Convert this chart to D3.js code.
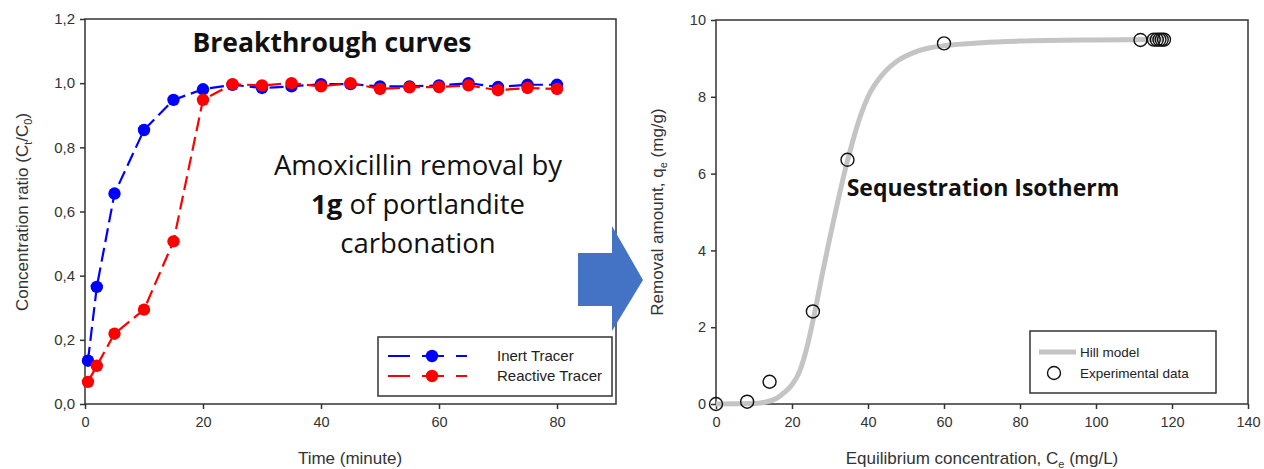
<!DOCTYPE html>
<html>
<head>
<meta charset="utf-8">
<script src="https://cdn.jsdelivr.net/npm/d3@7"></script>
<style>
  body { margin: 0; background: #fff; }
  svg { display: block; font-family: "Liberation Sans", Arial, sans-serif; }
  .tick line, .domain { stroke: #333; }
  .axis-label { font-size: 17px; fill: #333; }
  .big { font-family: "Open Sans", sans-serif; fill: #111; }
</style>
</head>
<body>
<svg width="1264" height="469"></svg>
<script>
// breakthrough curves (left)
const times = [0.5, 2, 5, 10, 15, 20, 25, 30, 35, 40, 45, 50, 55, 60, 65, 70, 75, 80];
const inert = [0.135, 0.365, 0.656, 0.854, 0.948, 0.981, 0.995, 0.985, 0.99, 0.997, 0.997, 0.99, 0.99, 0.993, 1.0, 0.988, 0.995, 0.995];
const reactive = [0.069, 0.119, 0.219, 0.294, 0.507, 0.948, 0.997, 0.993, 1.0, 0.99, 1.0, 0.982, 0.987, 0.988, 0.993, 0.978, 0.985, 0.982];
const timeTicks = [0, 20, 40, 60, 80];
const ratioTicks = [0, 0.2, 0.4, 0.6, 0.8, 1.0, 1.2];

// isotherm (right)
const ceData = [0, 8.2, 14.1, 25.5, 34.6, 60, 111.7, 115.2, 116.0, 116.7, 117.3, 117.9];
const qeData = [0, 0.06, 0.58, 2.41, 6.36, 9.39, 9.48, 9.49, 9.49, 9.49, 9.49, 9.49];
// Hill model curve
const hillC = [0, 10, 13, 16, 18, 20, 22, 24, 26, 28, 30, 32, 34, 36, 38, 40, 44, 48, 52, 56, 60, 70, 80, 100, 118];
const hillQ = [0, 0.01, 0.05, 0.15, 0.3, 0.5, 0.85, 1.5, 2.4, 3.4, 4.35, 5.25, 6.1, 6.85, 7.5, 8.0, 8.6, 8.95, 9.15, 9.27, 9.33, 9.41, 9.45, 9.48, 9.49];
const ceTicks = [0, 20, 40, 60, 80, 100, 120, 140];
const qeTicks = [0, 2, 4, 6, 8, 10];

const svg = d3.select("svg");
const comma = d => d3.format(".1f")(d).replace(".", ",");
const styleTicks = size => g => g.selectAll(".tick text")
  .style("font-size", size + "px")
  .style("font-family", "'Liberation Sans', Arial, sans-serif")
  .attr("fill", "#333");

// ---------- left chart ----------
const L = { left: 85, right: 616, top: 19, bottom: 404 };
const xL = d3.scaleLinear().domain([0, 90]).range([L.left, L.right]);
const yL = d3.scaleLinear().domain([0, 1.2]).range([L.bottom, L.top]);

const gL = svg.append("g");
gL.append("rect")
  .attr("x", L.left).attr("y", L.top)
  .attr("width", L.right - L.left).attr("height", L.bottom - L.top)
  .attr("fill", "none").attr("stroke", "#333").attr("stroke-width", 1.5);

gL.append("g")
  .attr("transform", `translate(0,${L.bottom})`)
  .call(d3.axisBottom(xL).tickValues(timeTicks).tickSize(5).tickSizeOuter(0).tickPadding(8))
  .call(g => g.select(".domain").remove())
  .call(styleTicks(14.5));
gL.append("g")
  .attr("transform", `translate(${L.left},0)`)
  .call(d3.axisLeft(yL).tickValues(ratioTicks).tickFormat(comma).tickSize(5).tickSizeOuter(0).tickPadding(5))
  .call(g => g.select(".domain").remove())
  .call(styleTicks(15));
gL.selectAll(".tick line").attr("stroke-width", 1.5);

const series = [
  { name: "Inert Tracer", values: inert, color: "#0000ff" },
  { name: "Reactive Tracer", values: reactive, color: "#ff0000" }
];

const lineL = d3.line().x(d => xL(d[0])).y(d => yL(d[1]));
series.forEach(s => {
  const pts = times.map((t, i) => [t, s.values[i]]);
  gL.append("path")
    .datum(pts)
    .attr("d", lineL)
    .attr("fill", "none")
    .attr("stroke", s.color)
    .attr("stroke-width", 2.2)
    .attr("stroke-dasharray", "14,6");
  gL.selectAll(null)
    .data(pts)
    .enter()
    .append("circle")
    .attr("cx", d => xL(d[0]))
    .attr("cy", d => yL(d[1]))
    .attr("r", 6.2)
    .attr("fill", s.color);
});

gL.append("text")
  .attr("class", "big")
  .attr("x", 332).attr("y", 52)
  .attr("text-anchor", "middle")
  .attr("font-weight", "bold")
  .attr("font-size", 26.5)
  .text("Breakthrough curves");

const note = gL.append("text")
  .attr("class", "big")
  .attr("text-anchor", "middle")
  .attr("font-size", 27.5);
note.append("tspan").attr("x", 418).attr("y", 175).text("Amoxicillin removal by");
const l2 = note.append("tspan").attr("x", 418).attr("y", 214);
l2.append("tspan").attr("font-weight", "bold").text("1g");
l2.append("tspan").text(" of portlandite");
note.append("tspan").attr("x", 418).attr("y", 253).text("carbonation");

// legend left
const legL = gL.append("g");
legL.append("rect")
  .attr("x", 378).attr("y", 337).attr("width", 234).attr("height", 59)
  .attr("fill", "#fff").attr("stroke", "#333").attr("stroke-width", 1.5);
series.forEach((s, i) => {
  const y = 356 + i * 20;
  legL.append("line")
    .attr("x1", 388).attr("x2", 467).attr("y1", y).attr("y2", y)
    .attr("stroke", s.color).attr("stroke-width", 2.2)
    .attr("stroke-dasharray", "22,12");
  legL.append("circle").attr("cx", 432).attr("cy", y).attr("r", 6.2).attr("fill", s.color);
  legL.append("text")
    .attr("x", 497).attr("y", y + 5)
    .attr("font-size", 15).attr("fill", "#222")
    .text(s.name);
});

// axis titles left
gL.append("text")
  .attr("class", "axis-label")
  .attr("x", 350).attr("y", 464)
  .attr("text-anchor", "middle")
  .text("Time (minute)");
const ylabL = gL.append("text")
  .attr("class", "axis-label")
  .attr("transform", "translate(28,212) rotate(-90)")
  .attr("text-anchor", "middle");
ylabL.append("tspan").text("Concentration ratio (C");
ylabL.append("tspan").attr("font-size", 11).attr("dy", 4).text("t");
ylabL.append("tspan").attr("dy", -4).text("/C");
ylabL.append("tspan").attr("font-size", 11).attr("dy", 4).text("0");
ylabL.append("tspan").attr("dy", -4).text(")");

// ---------- arrow ----------
svg.append("path")
  .attr("d", "M578,253 L612,253 L612,226 L643,280 L612,331 L612,306 L578,306 Z")
  .attr("fill", "#4472c4");

// ---------- right chart ----------
const R = { left: 716, right: 1248, top: 20, bottom: 404 };
const xR = d3.scaleLinear().domain([0, 140]).range([R.left, R.right]);
const yR = d3.scaleLinear().domain([0, 10]).range([R.bottom, R.top]);

const gR = svg.append("g");
gR.append("rect")
  .attr("x", R.left).attr("y", R.top)
  .attr("width", R.right - R.left).attr("height", R.bottom - R.top)
  .attr("fill", "none").attr("stroke", "#333").attr("stroke-width", 1.5);
gR.append("g")
  .attr("transform", `translate(0,${R.bottom})`)
  .call(d3.axisBottom(xR).tickValues(ceTicks).tickSize(5).tickSizeOuter(0).tickPadding(8))
  .call(g => g.select(".domain").remove())
  .call(styleTicks(14.5));
gR.append("g")
  .attr("transform", `translate(${R.left},0)`)
  .call(d3.axisLeft(yR).tickValues(qeTicks).tickSize(5).tickSizeOuter(0).tickPadding(5))
  .call(g => g.select(".domain").remove())
  .call(styleTicks(14.5));
gR.selectAll(".tick line").attr("stroke-width", 1.5);

gR.append("path")
  .datum(hillC.map((c, i) => [c, hillQ[i]]))
  .attr("d", d3.line().x(d => xR(d[0])).y(d => yR(d[1])).curve(d3.curveMonotoneX))
  .attr("fill", "none")
  .attr("stroke", "#c4c4c4")
  .attr("stroke-width", 5);

gR.selectAll(".pt")
  .data(ceData.map((c, i) => [c, qeData[i]]))
  .enter()
  .append("circle")
  .attr("class", "pt")
  .attr("cx", d => xR(d[0]))
  .attr("cy", d => yR(d[1]))
  .attr("r", 6.5)
  .attr("fill", "none")
  .attr("stroke", "#111")
  .attr("stroke-width", 1.4);

gR.append("text")
  .attr("class", "big")
  .attr("x", 983).attr("y", 196)
  .attr("text-anchor", "middle")
  .attr("font-weight", "bold")
  .attr("font-size", 23)
  .text("Sequestration Isotherm");

// legend right
const legR = gR.append("g");
legR.append("rect")
  .attr("x", 1030).attr("y", 331).attr("width", 186).attr("height", 62)
  .attr("fill", "#fff").attr("stroke", "#333").attr("stroke-width", 1.5);
legR.append("line")
  .attr("x1", 1039).attr("x2", 1076).attr("y1", 352).attr("y2", 352)
  .attr("stroke", "#c4c4c4").attr("stroke-width", 5);
legR.append("text").attr("x", 1080).attr("y", 357)
  .attr("font-size", 13.5).attr("fill", "#222").text("Hill model");
legR.append("circle").attr("cx", 1054).attr("cy", 373).attr("r", 6.5)
  .attr("fill", "none").attr("stroke", "#111").attr("stroke-width", 1.4);
legR.append("text").attr("x", 1080).attr("y", 378)
  .attr("font-size", 13.5).attr("fill", "#222").text("Experimental data");

// axis titles right
const xlabR = gR.append("text")
  .attr("class", "axis-label")
  .attr("x", 982).attr("y", 464)
  .attr("text-anchor", "middle");
xlabR.append("tspan").text("Equilibrium concentration, C");
xlabR.append("tspan").attr("font-size", 11).attr("dy", 4).text("e");
xlabR.append("tspan").attr("dy", -4).text(" (mg/L)");

const ylabR = gR.append("text")
  .attr("class", "axis-label")
  .attr("transform", "translate(663,212) rotate(-90)")
  .attr("text-anchor", "middle");
ylabR.append("tspan").text("Removal amount, q");
ylabR.append("tspan").attr("font-size", 11).attr("dy", 4).text("e");
ylabR.append("tspan").attr("dy", -4).text(" (mg/g)");
</script>
</body>
</html>
